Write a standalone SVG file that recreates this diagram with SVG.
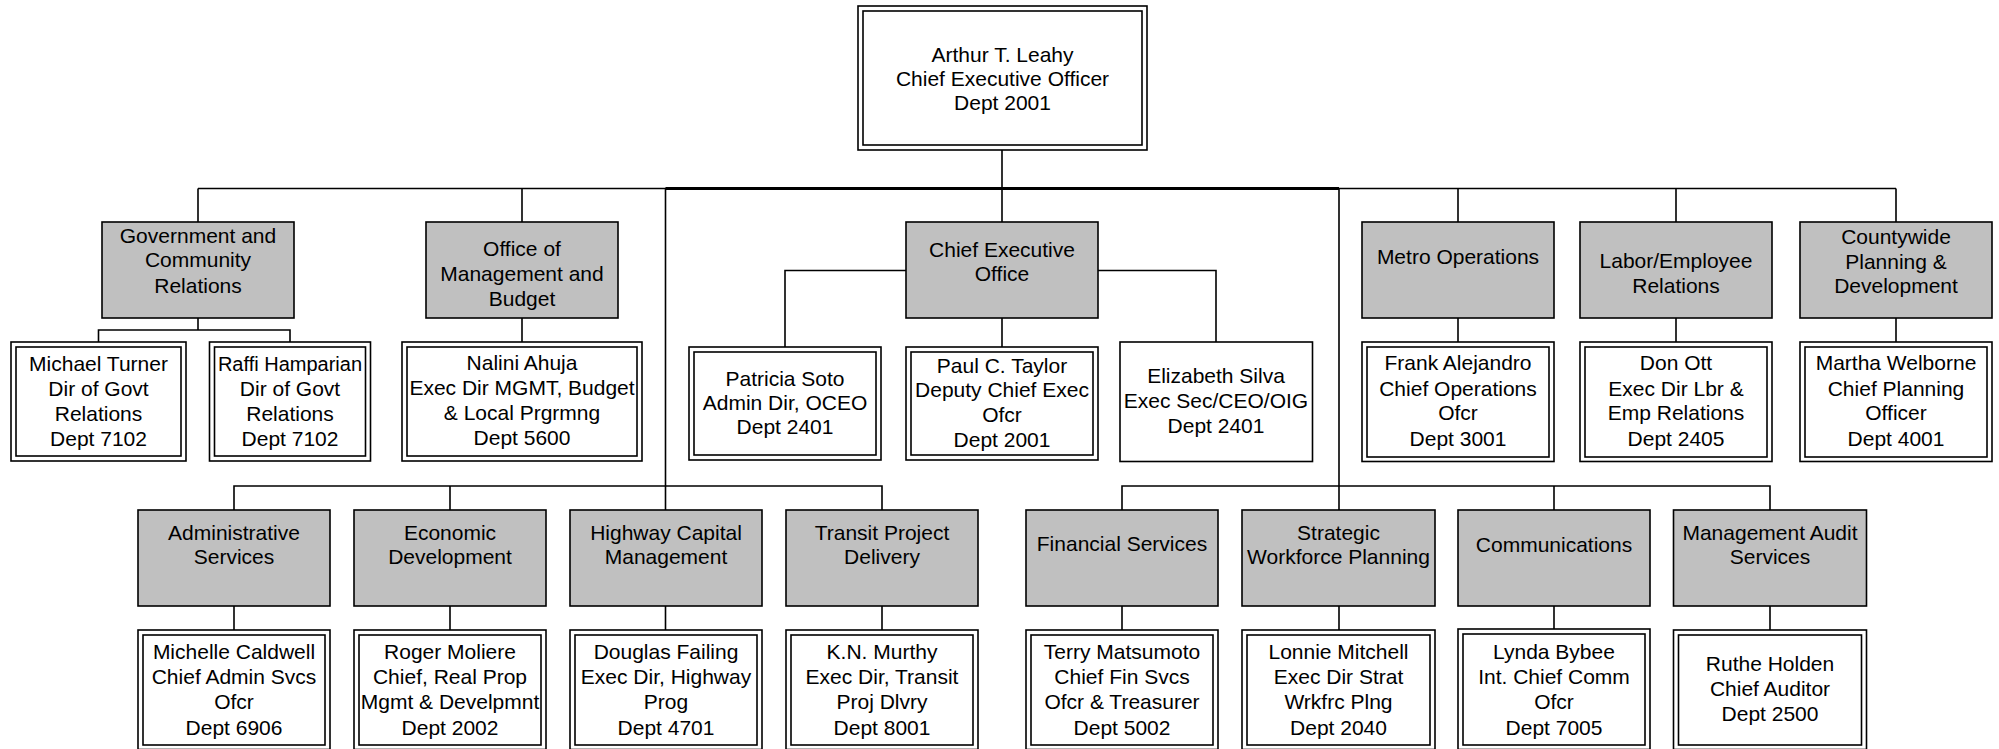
<svg xmlns="http://www.w3.org/2000/svg" width="1999" height="749" viewBox="0 0 1999 749">
<style>
.w{fill:#fff;stroke:#000;stroke-width:1.6}
.g{fill:#c0c0c0;stroke:#000;stroke-width:1.6}
.ln{fill:none;stroke:#000;stroke-width:1.6}
.thick{fill:none;stroke:#000;stroke-width:3}
text{font-family:"Liberation Sans",Arial,Helvetica,sans-serif;font-size:21px;text-anchor:middle;fill:#000}
</style>
<rect width="1999" height="749" fill="#fff"/>
<g id="connectors">
<path class="ln" d="M1002,150V222 M198,188.5H1896 M198,188.5V222 M522,188.5V222 M665.5,188.5V510 M1339,188.5V510 M1458,188.5V222 M1676,188.5V222 M1896,188.5V222"/>
<path class="thick" d="M665.5,188.5H1339"/>
<path class="ln" d="M198,318V330 M98.5,342V330H290V342 M522,318V342"/>
<path class="ln" d="M906,270.5H785V347 M1098,270.5H1216V342 M1002,318V347"/>
<path class="ln" d="M1458,318V342 M1676,318V342 M1896,318V342"/>
<path class="ln" d="M234,510V486H882V510 M450,486V510"/>
<path class="ln" d="M1122,510V486H1770V510 M1554,486V510"/>
<path class="ln" d="M234,606V630 M450,606V630 M665.5,606V630 M882,606V630 M1122,606V630 M1339,606V630 M1554,606V630 M1770,606V630"/>
</g>
<g id="ceo">
<rect class="w" x="858" y="6" width="289" height="144"/><rect class="w" x="863" y="11" width="279" height="134"/>
<text x="1002.5" y="62">Arthur T. Leahy</text><text x="1002.5" y="86">Chief Executive Officer</text><text x="1002.5" y="110">Dept 2001</text>
</g>
<g id="gov">
<rect class="g" x="102" y="222" width="192" height="96"/>
<text x="198" y="242.5">Government and</text><text x="198" y="267">Community</text><text x="198" y="292.5">Relations</text>
</g>
<g id="omb">
<rect class="g" x="426" y="222" width="192" height="96"/>
<text x="522" y="256">Office of</text><text x="522" y="281">Management and</text><text x="522" y="306">Budget</text>
</g>
<g id="ceo-office">
<rect class="g" x="906" y="222" width="192" height="96"/>
<text x="1002" y="257">Chief Executive</text><text x="1002" y="281">Office</text>
</g>
<g id="metro-ops">
<rect class="g" x="1362" y="222" width="192" height="96"/>
<text x="1458" y="264">Metro Operations</text>
</g>
<g id="labor">
<rect class="g" x="1580" y="222" width="192" height="96"/>
<text x="1676" y="268">Labor/Employee</text><text x="1676" y="293">Relations</text>
</g>
<g id="countywide">
<rect class="g" x="1800" y="222" width="192" height="96"/>
<text x="1896" y="244">Countywide</text><text x="1896" y="268.5">Planning &amp;</text><text x="1896" y="293">Development</text>
</g>
<g id="turner">
<rect class="w" x="11" y="342" width="175" height="119"/><rect class="w" x="16" y="347" width="165" height="109"/>
<text x="98.5" y="370.5">Michael Turner</text><text x="98.5" y="395.5">Dir of Govt</text><text x="98.5" y="420.5">Relations</text><text x="98.5" y="446">Dept 7102</text>
</g>
<g id="hamparian">
<rect class="w" x="209.5" y="342" width="161" height="119"/><rect class="w" x="214.5" y="347" width="151" height="109"/>
<text x="290" y="370.5" style="font-size:20px">Raffi Hamparian</text><text x="290" y="395.5">Dir of Govt</text><text x="290" y="420.5">Relations</text><text x="290" y="446">Dept 7102</text>
</g>
<g id="ahuja">
<rect class="w" x="402" y="342" width="240" height="119"/><rect class="w" x="407" y="347" width="230" height="109"/>
<text x="522" y="370">Nalini Ahuja</text><text x="522" y="395">Exec Dir MGMT, Budget</text><text x="522" y="420">&amp; Local Prgrmng</text><text x="522" y="444.5">Dept 5600</text>
</g>
<g id="soto">
<rect class="w" x="689" y="347" width="192" height="113"/><rect class="w" x="694" y="352" width="182" height="103"/>
<text x="785" y="385.5">Patricia Soto</text><text x="785" y="409.5">Admin Dir, OCEO</text><text x="785" y="434">Dept 2401</text>
</g>
<g id="taylor">
<rect class="w" x="906" y="347" width="192" height="113"/><rect class="w" x="911" y="352" width="182" height="103"/>
<text x="1002" y="372.5">Paul C. Taylor</text><text x="1002" y="397">Deputy Chief Exec</text><text x="1002" y="422">Ofcr</text><text x="1002" y="447">Dept 2001</text>
</g>
<g id="silva">
<rect class="w" x="1120" y="342" width="192.5" height="119.5"/>
<text x="1216" y="383">Elizabeth Silva</text><text x="1216" y="408">Exec Sec/CEO/OIG</text><text x="1216" y="433">Dept 2401</text>
</g>
<g id="alejandro">
<rect class="w" x="1362" y="342" width="192" height="119.5"/><rect class="w" x="1367" y="347" width="182" height="110"/>
<text x="1458" y="370">Frank Alejandro</text><text x="1458" y="395.5">Chief Operations</text><text x="1458" y="420">Ofcr</text><text x="1458" y="446">Dept 3001</text>
</g>
<g id="ott">
<rect class="w" x="1580" y="342" width="192" height="119.5"/><rect class="w" x="1585" y="347" width="182" height="110"/>
<text x="1676" y="370">Don Ott</text><text x="1676" y="395.5">Exec Dir Lbr &amp;</text><text x="1676" y="420">Emp Relations</text><text x="1676" y="446">Dept 2405</text>
</g>
<g id="welborne">
<rect class="w" x="1800" y="342" width="192" height="119.5"/><rect class="w" x="1805" y="347" width="182" height="110"/>
<text x="1896" y="370">Martha Welborne</text><text x="1896" y="395.5">Chief Planning</text><text x="1896" y="420">Officer</text><text x="1896" y="446">Dept 4001</text>
</g>
<g id="admin-services">
<rect class="g" x="138" y="510" width="192" height="96"/>
<text x="234" y="539.5">Administrative</text><text x="234" y="563.5">Services</text>
</g>
<g id="economic-dev">
<rect class="g" x="354" y="510" width="192" height="96"/>
<text x="450" y="539.5">Economic</text><text x="450" y="563.5">Development</text>
</g>
<g id="highway">
<rect class="g" x="570" y="510" width="192" height="96"/>
<text x="666" y="539.5">Highway Capital</text><text x="666" y="563.5">Management</text>
</g>
<g id="transit">
<rect class="g" x="786" y="510" width="192" height="96"/>
<text x="882" y="539.5">Transit Project</text><text x="882" y="563.5">Delivery</text>
</g>
<g id="financial">
<rect class="g" x="1026" y="510" width="192" height="96"/>
<text x="1122" y="551">Financial Services</text>
</g>
<g id="strategic">
<rect class="g" x="1242" y="510" width="193" height="96"/>
<text x="1338.5" y="539.5">Strategic</text><text x="1338.5" y="563.5">Workforce Planning</text>
</g>
<g id="communications">
<rect class="g" x="1458" y="510" width="192" height="96"/>
<text x="1554" y="551.5">Communications</text>
</g>
<g id="audit">
<rect class="g" x="1673.5" y="510" width="193" height="96"/>
<text x="1770" y="539.5">Management Audit</text><text x="1770" y="563.5">Services</text>
</g>
<g id="caldwell">
<rect class="w" x="138" y="630" width="192" height="119.5"/><rect class="w" x="143" y="635" width="182" height="110"/>
<text x="234" y="658.5">Michelle Caldwell</text><text x="234" y="683.5">Chief Admin Svcs</text><text x="234" y="709">Ofcr</text><text x="234" y="734.5">Dept 6906</text>
</g>
<g id="moliere">
<rect class="w" x="354" y="630" width="192" height="119.5"/><rect class="w" x="359" y="635" width="182" height="110"/>
<text x="450" y="658.5">Roger Moliere</text><text x="450" y="683.5">Chief, Real Prop</text><text x="450" y="709">Mgmt &amp; Develpmnt</text><text x="450" y="734.5">Dept 2002</text>
</g>
<g id="failing">
<rect class="w" x="570" y="630" width="192" height="119.5"/><rect class="w" x="575" y="635" width="182" height="110"/>
<text x="666" y="658.5">Douglas Failing</text><text x="666" y="683.5">Exec Dir, Highway</text><text x="666" y="709">Prog</text><text x="666" y="734.5">Dept 4701</text>
</g>
<g id="murthy">
<rect class="w" x="786" y="630" width="192" height="119.5"/><rect class="w" x="791" y="635" width="182" height="110"/>
<text x="882" y="658.5">K.N. Murthy</text><text x="882" y="683.5">Exec Dir, Transit</text><text x="882" y="709">Proj Dlvry</text><text x="882" y="734.5">Dept 8001</text>
</g>
<g id="matsumoto">
<rect class="w" x="1026" y="630" width="192" height="119.5"/><rect class="w" x="1031" y="635" width="182" height="110"/>
<text x="1122" y="658.5">Terry Matsumoto</text><text x="1122" y="683.5">Chief Fin Svcs</text><text x="1122" y="709">Ofcr &amp; Treasurer</text><text x="1122" y="734.5">Dept 5002</text>
</g>
<g id="mitchell">
<rect class="w" x="1242" y="630" width="193" height="119.5"/><rect class="w" x="1247" y="635" width="183" height="110"/>
<text x="1338.5" y="658.5">Lonnie Mitchell</text><text x="1338.5" y="683.5">Exec Dir Strat</text><text x="1338.5" y="709">Wrkfrc Plng</text><text x="1338.5" y="734.5">Dept 2040</text>
</g>
<g id="bybee">
<rect class="w" x="1458" y="629" width="192" height="120.5"/><rect class="w" x="1463" y="634" width="182" height="111"/>
<text x="1554" y="658.5">Lynda Bybee</text><text x="1554" y="683.5">Int. Chief Comm</text><text x="1554" y="709">Ofcr</text><text x="1554" y="734.5">Dept 7005</text>
</g>
<g id="holden">
<rect class="w" x="1673.5" y="630" width="193" height="119.5"/><rect class="w" x="1678.5" y="635" width="183" height="110"/>
<text x="1770" y="671">Ruthe Holden</text><text x="1770" y="696">Chief Auditor</text><text x="1770" y="721">Dept 2500</text>
</g>
</svg>
